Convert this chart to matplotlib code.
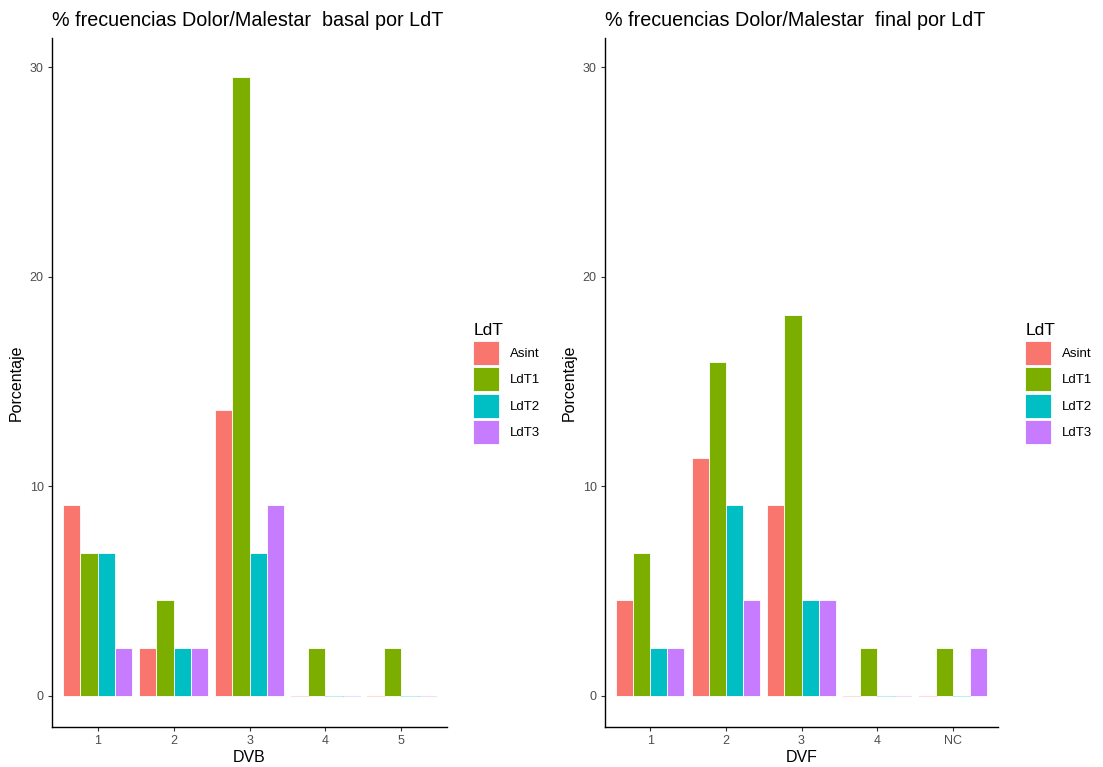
import numpy as np
import matplotlib.pyplot as plt
from matplotlib.patches import Patch
from matplotlib.colors import to_rgba

plt.rcParams['font.family'] = ['Liberation Sans', 'DejaVu Sans']

# porcentajes por grupo de LdT
grupos = ['Asint', 'LdT1', 'LdT2', 'LdT3']
colores = ['#F8766D', '#7CAE00', '#00BFC4', '#C77CFF']

dvb_cat = ['1', '2', '3', '4', '5']
dvb_asint = [9.09, 2.27, 13.64, 0, 0]
dvb_ldt1 = [6.82, 4.55, 29.55, 2.27, 2.27]
dvb_ldt2 = [6.82, 2.27, 6.82, 0, 0]
dvb_ldt3 = [2.27, 2.27, 9.09, 0, 0]

dvf_cat = ['1', '2', '3', '4', 'NC']
dvf_asint = [4.55, 11.36, 9.09, 0, 0]
dvf_ldt1 = [6.82, 15.91, 18.18, 2.27, 2.27]
dvf_ldt2 = [2.27, 9.09, 4.55, 0, 0]
dvf_ldt3 = [2.27, 4.55, 4.55, 0, 2.27]

W, H = 1103, 767
fig = plt.figure(figsize=(W / 100, H / 100), dpi=100)


def panel(rect, cats, series, titulo, xlab, legx):
    ax = fig.add_axes(rect)
    x = np.arange(1, len(cats) + 1)
    w = 0.9 / len(series)
    for i, (vals, c) in enumerate(zip(series, colores)):
        pos = x - 0.45 + w * (i + 0.5)
        for p, v in zip(pos, vals):
            if v == 0:
                ax.plot([p - w / 2, p + w / 2], [0, 0], color=to_rgba(c, 0.25), lw=0.8)
            else:
                ax.bar(p, v, width=w, color=c, edgecolor='white', linewidth=0.6)
    ax.set_xlim(0.4, len(cats) + 0.6)
    ax.set_ylim(-1.5, 31.4)
    ax.set_xticks(x)
    ax.set_xticklabels(cats)
    ax.set_yticks([0, 10, 20, 30])
    for s in ['top', 'right']:
        ax.spines[s].set_visible(False)
    for s in ['left', 'bottom']:
        ax.spines[s].set_linewidth(1.0)
    ax.tick_params(length=3, width=0.8, color='#333333', labelcolor='#4D4D4D', labelsize=9, pad=3)
    ax.set_xlabel(xlab, fontsize=11.5, labelpad=2)
    ax.set_ylabel('Porcentaje', fontsize=11.5, labelpad=4)
    ax.set_title(titulo, fontsize=14.2, loc='left', pad=9)
    handles = [Patch(facecolor=c, edgecolor='white', linewidth=0.6) for c in colores]
    fig.legend(handles, grupos, loc='upper left', bbox_to_anchor=(legx, 1 - 318 / H),
               frameon=False, title='LdT', title_fontsize=12.5, fontsize=9.5,
               handlelength=1.95, handleheight=2.4, labelspacing=0.2,
               handletextpad=0.8, alignment='left', borderaxespad=0)
    return ax


bottom = 1 - 727 / H
height = 689 / H
panel([52 / W, bottom, 395 / W, height], dvb_cat,
      [dvb_asint, dvb_ldt1, dvb_ldt2, dvb_ldt3],
      '% frecuencias Dolor/Malestar  basal por LdT', 'DVB', 468 / W)
panel([605 / W, bottom, 393 / W, height], dvf_cat,
      [dvf_asint, dvf_ldt1, dvf_ldt2, dvf_ldt3],
      '% frecuencias Dolor/Malestar  final por LdT', 'DVF', 1020 / W)

fig.savefig('out.png', dpi=100)
